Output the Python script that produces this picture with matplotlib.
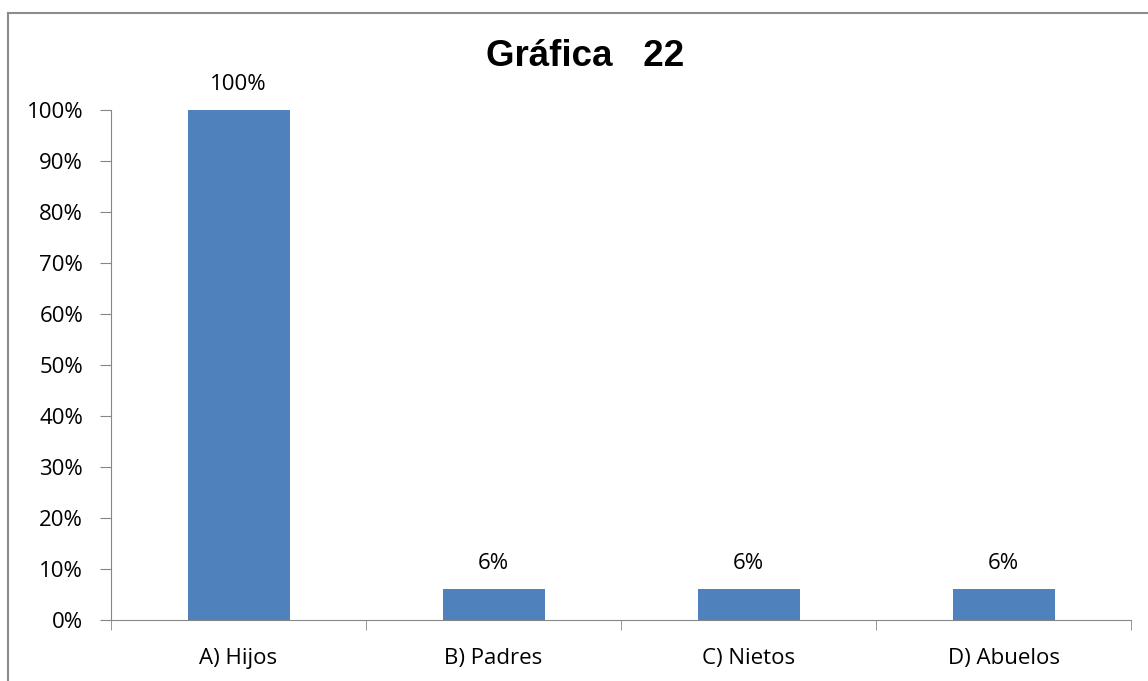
import matplotlib.pyplot as plt
from matplotlib.lines import Line2D

categorias = ['A) Hijos', 'B) Padres', 'C) Nietos', 'D) Abuelos']
valores = [1.00, 0.06, 0.06, 0.06]
etiquetas = ['100%', '6%', '6%', '6%']
marcas_y = [i / 10 for i in range(11)]

plt.rcParams['font.family'] = ['Open Sans', 'DejaVu Sans']

fig = plt.figure(figsize=(11.48, 6.81), dpi=100)
ax = fig.add_axes([111 / 1148, 1 - 620 / 681, (1131 - 111) / 1148, (620 - 110) / 681])

# borde del cuadro (solo arriba e izquierda, el resto queda fuera)
W, H = 1148, 681
fig.add_artist(Line2D([8 / W, 8 / W], [1 - 13 / H, 0], color='#8c8c8c', lw=1.5,
                      transform=fig.transFigure))
fig.add_artist(Line2D([8 / W, 1], [1 - 13 / H, 1 - 13 / H], color='#8c8c8c', lw=1.5,
                      transform=fig.transFigure))

x = range(len(categorias))
ax.bar(x, valores, width=0.4, color='#4F81BD')
for xi, v, t in zip(x, valores, etiquetas):
    ax.text(xi, v + 0.03, t, ha='center', va='bottom', fontsize=16)

ax.set_xlim(-0.5, len(categorias) - 0.5)
ax.set_ylim(0, 1)
ax.set_yticks(marcas_y)
ax.set_yticklabels(['%d%%' % round(v * 100) for v in marcas_y], fontsize=16)
ax.set_xticks(list(x))
ax.set_xticklabels(categorias, fontsize=16)
ax.tick_params(axis='x', length=0, pad=20)
ax.set_xticks([i - 0.5 for i in range(len(categorias) + 1)], minor=True)
ax.tick_params(axis='x', which='minor', length=7, color='#868686', direction='out')
ax.tick_params(axis='y', length=8, color='#868686', direction='out', pad=12)

for s in ['top', 'right']:
    ax.spines[s].set_visible(False)
for s in ['left', 'bottom']:
    ax.spines[s].set_color('#868686')

fig.text(585 / W, 1 - 57 / H, u'Gráfica   22', ha='center', va='center',
         fontsize=26.5, fontweight='bold', family=['Liberation Sans', 'DejaVu Sans'])

plt.savefig('out.png', dpi=100)
